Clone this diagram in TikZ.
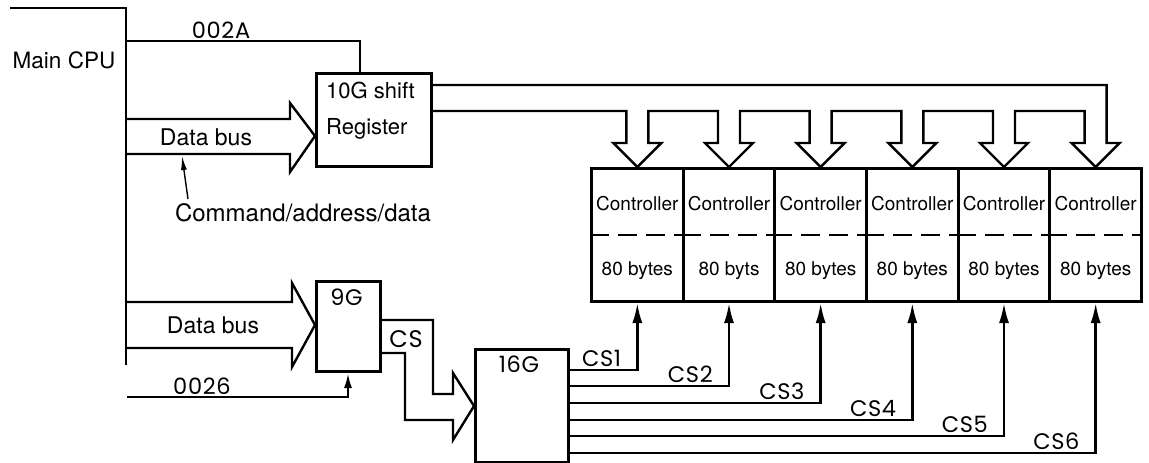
\documentclass[tikz,border=0pt]{standalone}
\usepackage{fontspec}
\setmainfont{TeX Gyre Heros}
\newfontfamily\letterfont[LetterSpace=3]{Poppins}
\usetikzlibrary{arrows.meta,calc}
\begin{document}
\begin{tikzpicture}[x=1pt,y=-1pt,
  box/.style={draw,line width=3pt,inner sep=0pt,anchor=north west},
  wire/.style={draw,line width=2.4pt,line join=miter},
  thinwire/.style={draw,line width=1.4pt},
  divider/.style={draw,line width=2.6pt,dash pattern=on 19pt off 9pt},
  txtbig/.style={inner sep=0pt,font=\fontsize{23}{26}\selectfont},
  txtreg/.style={inner sep=0pt,font=\fontsize{22}{24}\selectfont},
  txtctl/.style={inner sep=0pt,font=\fontsize{19}{21}\selectfont},
  lettering/.style={inner sep=0pt,font=\letterfont\fontsize{22.5}{24}\selectfont},
  cstip/.style={-{Latex[length=20pt,width=10pt]}},
  smalltip/.style={-{Latex[length=15pt,width=8pt]}},
  pointtip/.style={-{Latex[length=14pt,width=6pt]}}]

\fill[white] (0,0) rectangle (1149,463);
\useasboundingbox (0,0) rectangle (1149,463);

% Main CPU bracket
\coordinate (cpuTL) at (10,8);
\coordinate (cpuTR) at (126,8);
\coordinate (cpuBot) at (126,365);
\draw[wire] (cpuTL) -- (cpuTR) -- (cpuBot);
\node[txtbig,font=\fontsize{22.5}{24}\selectfont,anchor=base] (cpu) at (64,68) {Main CPU};

% chips
\node[box,minimum width=115pt,minimum height=93pt] (reg) at (315,72) {};
\node[txtreg,anchor=base west] (regA) at ($(reg.north west)+(11,26)$) {10G shift};
\node[txtreg,anchor=base west] (regB) at ($(reg.north west)+(11,62)$) {Register};

\node[box,minimum width=64pt,minimum height=90pt] (g9) at (315,280) {};
\node[lettering,anchor=base] (g9t) at ($(g9.north)+(-2,25)$) {9G};

\node[box,minimum width=93pt,minimum height=113pt] (g16) at (474,348) {};
\node[lettering,anchor=base] (g16t) at ($(g16.north)+(-3,24)$) {16G};

% controllers
\foreach \i/\mem in {1/80 bytes,2/80 byts,3/80 bytes,4/80 bytes,5/80 bytes,6/80 bytes}{
  \node[box,minimum width=91.667pt,minimum height=133pt] (c\i) at ({590+(\i-1)*91.667},167) {};
  \coordinate (t\i) at (c\i.north);
  \node[txtctl,anchor=base] (ct\i) at ($(c\i.north)+(0,43)$) {Controller};
  \draw[divider] ($(c\i.north west)+(0,68)$) -- ($(c\i.north east)+(0,68)$);
  \node[txtctl,anchor=base] (cm\i) at ($(c\i.north)+(0,108)$) {\mem};
}

% 002A strobe into the shift register
\coordinate (sel2A) at (126,41);
\draw[wire] (sel2A) -| ($(reg.north west)+(45,0)$);
\node[lettering,anchor=base] (l2A) at (221,38) {002A};

% data bus into the shift register
\draw[wire] (126,119) -- (290,119) -- (290,103) -- ($(reg.north west)+(0,64)$)
  -- (290,172) -- (290,154) -- (126,154);
\node[txtbig,anchor=base] (db1) at (206,145) {Data bus};
\node[txtbig,font=\fontsize{24}{26}\selectfont,anchor=base] (cmd) at (303,221.5) {Command/address/data};
\coordinate (cmdfrom) at (188,199);
\coordinate (cmdto) at (182,156);
\draw[thinwire,pointtip] (cmdfrom) -- (cmdto);

% serial bus from the shift register to the six controllers
\draw[wire] ($(reg.north east)+(0,13)$) -| ($(t6)+(11,-24)$)
  \foreach \i/\j in {6/5,5/4,4/3,3/2,2/1}{
    -- ($(t\i)+(24,-24)$) -- (t\i) -- ($(t\i)+(-24,-24)$) -- ($(t\i)+(-11,-24)$)
    |- ($(t\j)+(11,-56)$) -- ($(t\j)+(11,-24)$)
  }
  -- ($(t1)+(24,-24)$) -- (t1) -- ($(t1)+(-24,-24)$) -- ($(t1)+(-11,-24)$)
  |- ($(reg.north east)+(0,39)$);

% data bus into 9G
\draw[wire] (126,302) -- (292,302) -- (292,283) -- ($(g9.north west)+(0,45)$)
  -- (292,367) -- (292,348) -- (126,348);
\node[txtbig,anchor=base] (db2) at (213,333) {Data bus};

% 0026 strobe into 9G
\coordinate (sel26) at (127,397);
\draw[wire,smalltip] (sel26) -| ($(g9.south west)+(33,0)$);
\node[lettering,anchor=base] (l26) at (202,394) {0026};

% CS bus from 9G to 16G
\draw[wire] ($(g9.north east)+(0,40)$) -| (433,394) -- (453,394) -- (453,373)
  -- ($(g16.north west)+(0,58)$) -- (453,440) -- (453,420) -- (405,420)
  |- ($(g9.north east)+(0,73)$);
\node[lettering,font=\letterfont\fontsize{24}{26}\selectfont,anchor=base] (csl) at (406,347) {CS};

% chip selects to the controllers
\foreach \i/\dy in {1/22,2/38,3/55,4/72,5/88,6/105}{
  \draw[wire,cstip] ($(g16.north east)+(0,\dy)$) -| (c\i.south)
    node[pos=0.5,lettering,anchor=base east,xshift=-15pt,yshift=4pt] (cs\i) {CS\i};
}
\end{tikzpicture}
\end{document}
